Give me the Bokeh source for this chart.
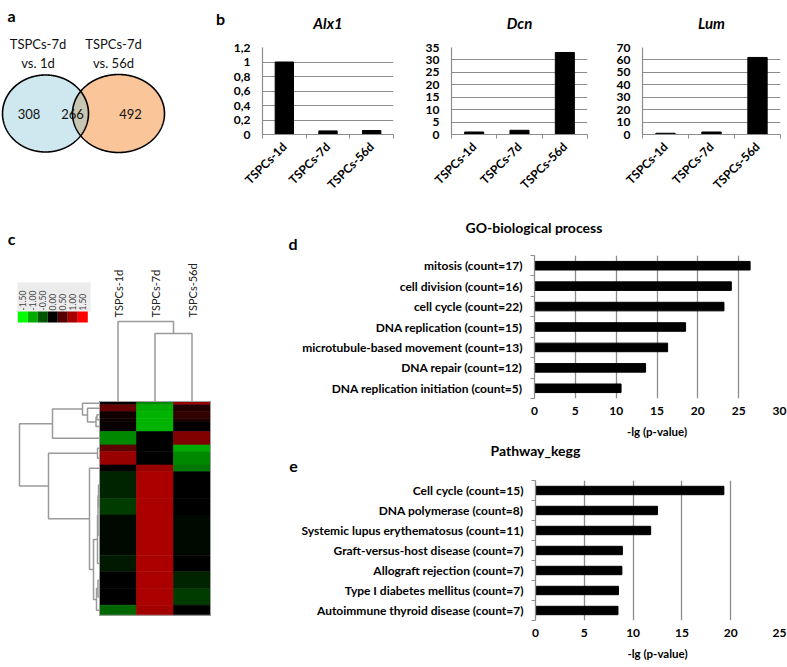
import numpy as np
from math import pi
from bokeh.plotting import figure
from bokeh.layouts import row, column
from bokeh.models import Range1d, FixedTicker, LinearColorMapper, ColumnDataSource, Title
from bokeh.core.properties import value
from bokeh.embed import file_html
from bokeh.resources import INLINE

FONT = "Lato"
GRID = "#8c8c8c"
DENDRO = "#9a9a9a"

# ---------------- data ----------------
venn_titles = [["TSPCs-7d", "vs. 1d"], ["TSPCs-7d", "vs. 56d"]]
venn_counts = [308, 266, 492]          # only 7d-vs-1d, shared, only 7d-vs-56d

samples = ["TSPCs-1d", "TSPCs-7d", "TSPCs-56d"]
alx1_expr = [1.0, 0.05, 0.055]
dcn_expr = [1.0, 1.7, 33.0]
lum_expr = [1.0, 2.0, 62.0]
alx1_ticks = [0, 0.2, 0.4, 0.6, 0.8, 1.0, 1.2]
alx1_tick_labels = ["0", "0,2", "0,4", "0,6", "0,8", "1", "1,2"]
dcn_ticks = [0, 5, 10, 15, 20, 25, 30, 35]
lum_ticks = [0, 10, 20, 30, 40, 50, 60, 70]

legend_values = [-1.5, -1.0, -0.5, 0.0, 0.5, 1.0, 1.5]
cluster_genes = [1, 2, 2, 1, 3, 4, 2, 4, 2, 8, 5, 12, 5, 5, 5, 3]
z_1d = [0.0, 0.6, 0.1, 0.1, 0.05, -0.8, 0.55, 0.9, 0.0, -0.2, -0.35, -0.05, -0.15, 0.0, 0.0, -0.6]
z_7d = [-0.8, -1.0, -1.05, -1.05, -1.05, 0.0, 0.0, 0.0, 0.9, 1.0, 1.0, 1.0, 1.0, 1.0, 1.0, 0.95]
z_56d = [0.9, 0.2, 0.3, 0.2, 0.0, 0.75, -1.0, -0.8, -0.7, 0.0, 0.0, -0.05, 0.0, -0.2, -0.35, 0.0]
# (child a, child b, merge height); nodes numbered after the 16 leaf clusters
row_merges = [(2, 3, 0.25), (16, 4, 0.35), (1, 17, 1.2), (0, 18, 1.7), (6, 7, 0.2),
              (9, 10, 0.1), (21, 11, 0.15), (22, 12, 0.2), (13, 14, 0.15), (24, 15, 0.3),
              (23, 25, 0.6), (8, 26, 1.0), (19, 5, 4.7), (20, 27, 5.1), (28, 29, 8.0)]
col_merges = [(1, 2, 6.8), (0, 3, 8.0)]

go_terms = ["mitosis (count=17)", "cell division (count=16)", "cell cycle (count=22)",
            "DNA replication (count=15)", "microtubule-based movement (count=13)",
            "DNA repair (count=12)", "DNA replication initiation (count=5)"]
go_values = [26.4, 24.1, 23.2, 18.5, 16.3, 13.6, 10.6]
go_ticks = [0, 5, 10, 15, 20, 25, 30]
kegg_terms = ["Cell cycle (count=15)", "DNA polymerase (count=8)",
              "Systemic lupus erythematosus (count=11)", "Graft-versus-host disease (count=7)",
              "Allograft rejection (count=7)", "Type I diabetes mellitus (count=7)",
              "Autoimmune thyroid disease (count=7)"]
kegg_values = [19.3, 12.5, 11.8, 8.9, 8.85, 8.5, 8.45]
kegg_ticks = [0, 5, 10, 15, 20, 25]


def base_fig(width, height, xr, yr, left=0, right=0, top=0, bottom=0, title=None, axes=True):
    kw = {}
    if not axes:
        kw = dict(x_axis_location=None, y_axis_location=None)
    p = figure(width=width, height=height, x_range=xr, y_range=yr,
               output_backend="svg", toolbar_location=None, title=title,
               min_border_left=left, min_border_right=right,
               min_border_top=top, min_border_bottom=bottom,
               background_fill_color="white", border_fill_color="white",
               outline_line_color=None, frame_align=False, **kw)
    return p


def txt(p, x, y, s, size, bold=False, align="center", baseline="middle", angle=0.0, color="#111111"):
    p.text(x=x, y=y, text=s, text_align=align, text_baseline=baseline, angle=angle,
           text_font=value(FONT), text_font_style="bold" if bold else "normal",
           text_font_size=size, text_color=color)


# ---------------- panel a : Venn (+ letter b) ----------------
pa = base_fig(226, 200, Range1d(0, 226), Range1d(200, 0), axes=False)
pa.grid.visible = False
L = (45.0, 113.0, 43.0, 38.5)
Rr = (118.0, 113.0, 46.0, 39.0)
t = np.linspace(0, 2 * pi, 720)
lx, ly = L[0] + L[2] * np.cos(t), L[1] + L[3] * np.sin(t)
rx, ry = Rr[0] + Rr[2] * np.cos(t), Rr[1] + Rr[3] * np.sin(t)
inR = ((lx - Rr[0]) / Rr[2]) ** 2 + ((ly - Rr[1]) / Rr[3]) ** 2 <= 1
inL = ((rx - L[0]) / L[2]) ** 2 + ((ry - L[1]) / L[3]) ** 2 <= 1
ix = np.concatenate([lx[inR], rx[inL]])
iy = np.concatenate([ly[inR], ry[inL]])
cx, cy = ix.mean(), iy.mean()
order = np.argsort(np.arctan2(iy - cy, ix - cx))
pa.patch(lx, ly, fill_color="#cfe7ef", line_color=None)
pa.patch(rx, ry, fill_color="#fbc59a", line_color=None)
pa.patch(ix[order], iy[order], fill_color="#c8c7b3", line_color=None)
pa.patches(xs=[list(lx), list(rx)], ys=[list(ly), list(ry)], fill_color=None,
           line_color="black", line_width=1.6)
txt(pa, [28.5, 72, 130], [113, 113, 113], [str(v) for v in venn_counts], "13px")
txt(pa, [37.5, 37.5, 113, 113], [43, 62, 43, 62],
    [venn_titles[0][0], venn_titles[0][1], venn_titles[1][0], venn_titles[1][1]], "13px")
txt(pa, [11, 220], [15, 18], ["a", "b"], "16px", bold=True, baseline="alphabetic", color="black")


# ---------------- panel b : gene bars ----------------
def gene_chart(name, vals, ticks, tick_labels, width, left, fw, title_offset):
    H, top, fh = 200, 47, 97
    n = len(vals)
    p = base_fig(width, H, Range1d(0.5, n + 0.5), Range1d(ticks[0], ticks[-1]),
                 left=left, right=width - left - fw, top=top, bottom=H - top - fh, title=name)
    xs = [i + 1 for i in range(n)]
    p.ygrid.ticker = FixedTicker(ticks=ticks)
    p.ygrid.grid_line_color = GRID
    p.ygrid.grid_line_width = 1.2
    p.xgrid.visible = False
    p.vbar(x=xs, top=vals, width=0.42, fill_color="black", line_color="black")
    xa = p.xaxis[0]
    xa.ticker = FixedTicker(ticks=xs, minor_ticks=[i + 0.5 for i in range(n + 1)])
    xa.major_label_overrides = {x: s for x, s in zip(xs, samples)}
    xa.major_label_orientation = pi / 4
    xa.axis_line_color = GRID
    xa.axis_line_width = 1.2
    xa.major_tick_line_color = None
    xa.major_tick_out = 0
    xa.major_tick_in = 0
    xa.minor_tick_line_color = GRID
    xa.minor_tick_out = 4
    xa.minor_tick_in = 0
    xa.major_label_standoff = 6
    xa.major_label_text_font = FONT
    xa.major_label_text_font_style = "bold"
    xa.major_label_text_font_size = "12px"
    xa.major_label_text_color = "black"
    ya = p.yaxis[0]
    ya.ticker = FixedTicker(ticks=ticks)
    ya.major_label_overrides = {k: s for k, s in zip(ticks, tick_labels)}
    ya.axis_line_color = GRID
    ya.axis_line_width = 1.2
    ya.major_tick_line_color = None
    ya.major_tick_out = 0
    ya.major_tick_in = 0
    ya.minor_tick_line_color = None
    ya.major_label_standoff = 12
    ya.major_label_text_font = FONT
    ya.major_label_text_font_style = "bold"
    ya.major_label_text_font_size = "12px"
    ya.major_label_text_color = "black"
    p.title.text_font = FONT
    p.title.text_font_style = "bold italic"
    p.title.text_font_size = "15px"
    p.title.text_color = "black"
    p.title.align = "center"
    p.title.offset = title_offset
    p.title.vertical_align = "top"
    p.title.standoff = 27
    return p


p_alx = gene_chart("Alx1", alx1_expr, alx1_ticks, alx1_tick_labels, 174, 36, 131, -12)
p_dcn = gene_chart("Dcn", dcn_expr, dcn_ticks, [str(v) for v in dcn_ticks], 190, 51, 136, -9)
p_lum = gene_chart("Lum", lum_expr, lum_ticks, [str(v) for v in lum_ticks], 197, 52, 138, -8)

# ---------------- panel c : heatmap (+ letters c, d, e) ----------------
PXU, PXR, X0, Y0 = 37.0, 3.34, 99.0, 401.0


def U(px):
    return (px - X0) / PXU


def R(py):
    return (py - Y0) / PXR


pc = base_fig(298, 467, Range1d(U(0), U(298)), Range1d(R(667), R(200)), axes=False)
pc.grid.visible = False

vals = np.linspace(-1.5, 1.5, 256)
palette = []
for v in vals:
    g = int(round(255 * max(0.0, -v) / 1.5))
    r = int(round(255 * max(0.0, v) / 1.5))
    palette.append("#%02x%02x%02x" % (r, g, 0))
mapper = LinearColorMapper(palette=palette, low=-1.5, high=1.5)

ends = np.cumsum(cluster_genes)
starts = ends - np.array(cluster_genes)
zmat = [z_1d, z_7d, z_56d]
hl, hr, ht, hb, hv = [], [], [], [], []
for j, zcol in enumerate(zmat):
    for k, z in enumerate(zcol):
        hl.append(j); hr.append(j + 1); ht.append(float(starts[k])); hb.append(float(ends[k])); hv.append(z)
src = ColumnDataSource(dict(l=hl, r=hr, t=ht, b=hb, v=hv))
pc.quad(left="l", right="r", top="t", bottom="b", source=src,
        fill_color={"field": "v", "transform": mapper},
        line_color={"field": "v", "transform": mapper}, line_width=0.6)
pc.quad(left=[0], right=[3], top=[0], bottom=[float(ends[-1])], fill_color=None,
        line_color="#a0a0a0", line_width=1)


def dendro(leaf_pos, merges):
    pos = list(leaf_pos)
    hgt = [0.0] * len(leaf_pos)
    segs = []
    for a, b, h in merges:
        segs.append(([hgt[a], h, h, hgt[b]], [pos[a], pos[a], pos[b], pos[b]]))
        pos.append((pos[a] + pos[b]) / 2.0)
        hgt.append(h)
    return segs


DIST = 10.0  # px per distance unit
row_leaf = [(s + e) / 2.0 for s, e in zip(starts, ends)]
rsegs = dendro(row_leaf, row_merges)
pc.multi_line(xs=[[-h * DIST / PXU for h in hs] for hs, ps in rsegs],
              ys=[list(ps) for hs, ps in rsegs], line_color=DENDRO, line_width=1.5)
csegs = dendro([i + 0.5 for i in range(len(samples))], col_merges)
pc.multi_line(xs=[list(ps) for hs, ps in csegs],
              ys=[[-h * DIST / PXR for h in hs] for hs, ps in csegs], line_color=DENDRO, line_width=1.5)

txt(pc, [i + 0.5 for i in range(len(samples))], [R(317)] * len(samples), samples, "11px",
    align="left", angle=pi / 2, color="#222222")

# colour legend
pc.quad(left=[U(17)], right=[U(90)], top=[R(282)], bottom=[R(311)], fill_color="#ececec", line_color=None)
lx_leg = [U(52.3 + 20 * v) for v in legend_values]
pc.rect(x=lx_leg, y=[R(316.5)] * len(legend_values), width=10 / PXU, height=11 / PXR,
        fill_color=[palette[int(round((v + 1.5) / 3 * 255))] for v in legend_values], line_color=None)
txt(pc, lx_leg, [R(310)] * len(legend_values), ["%.2f" % v for v in legend_values], "8.5px",
    align="left", angle=pi / 2, color="#444444")
txt(pc, [U(11), U(292.5), U(293)], [R(238), R(243), R(466)], ["c", "d", "e"], "16px",
    bold=True, baseline="alphabetic", color="black")


# ---------------- panels d, e : enrichment bars ----------------
def style_title(tt, offset, standoff, valign):
    tt.text_font = FONT
    tt.text_font_style = "bold"
    tt.text_font_size = "14px"
    tt.text_color = "black"
    tt.align = "left"
    tt.offset = offset
    tt.standoff = standoff
    tt.vertical_align = valign


def enrich_chart(title, terms, vals, ticks, H, top, fh):
    n = len(terms)
    W, left, fw = 489, 236, 245
    p = base_fig(W, H, Range1d(ticks[0], ticks[-1]), Range1d(n + 0.5, 0.5),
                 left=left, right=W - left - fw, top=top, bottom=H - top - fh, title=title)
    ys = [i + 1 for i in range(n)]
    p.xgrid.ticker = FixedTicker(ticks=ticks)
    p.xgrid.grid_line_color = GRID
    p.xgrid.grid_line_width = 1.3
    p.ygrid.visible = False
    p.hbar(y=ys, right=vals, height=0.42, fill_color="black", line_color="black")
    ya = p.yaxis[0]
    ya.ticker = FixedTicker(ticks=ys, minor_ticks=[i + 0.5 for i in range(n + 1)])
    ya.major_label_overrides = {y: s for y, s in zip(ys, terms)}
    ya.axis_line_color = GRID
    ya.axis_line_width = 1.3
    ya.major_tick_line_color = None
    ya.major_tick_out = 0
    ya.major_tick_in = 0
    ya.minor_tick_line_color = GRID
    ya.minor_tick_out = 4
    ya.minor_tick_in = 0
    ya.major_label_standoff = 8
    ya.major_label_text_font = FONT
    ya.major_label_text_font_style = "bold"
    ya.major_label_text_font_size = "12px"
    ya.major_label_text_color = "black"
    xa = p.xaxis[0]
    xa.ticker = FixedTicker(ticks=ticks)
    xa.axis_line_color = None
    xa.major_tick_line_color = None
    xa.major_tick_out = 0
    xa.major_tick_in = 0
    xa.minor_tick_line_color = None
    xa.major_label_standoff = 8
    xa.major_label_text_font = FONT
    xa.major_label_text_font_style = "bold"
    xa.major_label_text_font_size = "12px"
    xa.major_label_text_color = "black"
    xa.axis_label = "-lg (p-value)"
    xa.axis_label_text_font = FONT
    xa.axis_label_text_font_style = "bold"
    xa.axis_label_text_font_size = "11.5px"
    xa.axis_label_text_color = "black"
    xa.axis_label_standoff = 7
    return p


pd_ = enrich_chart("GO-biological process", go_terms, go_values, go_ticks, 264, 55, 143)
style_title(pd_.title, -69, 36, "top")
kegg_title = Title(text="Pathway_kegg")
style_title(kegg_title, -44, 3, "top")
pd_.add_layout(kegg_title, "below")
pe_ = enrich_chart(None, kegg_terms, kegg_values, kegg_ticks, 203, 16, 140)

layout = column(row(pa, p_alx, p_dcn, p_lum), row(pc, column(pd_, pe_)))
open("out.html", "w").write(file_html(layout, INLINE))
